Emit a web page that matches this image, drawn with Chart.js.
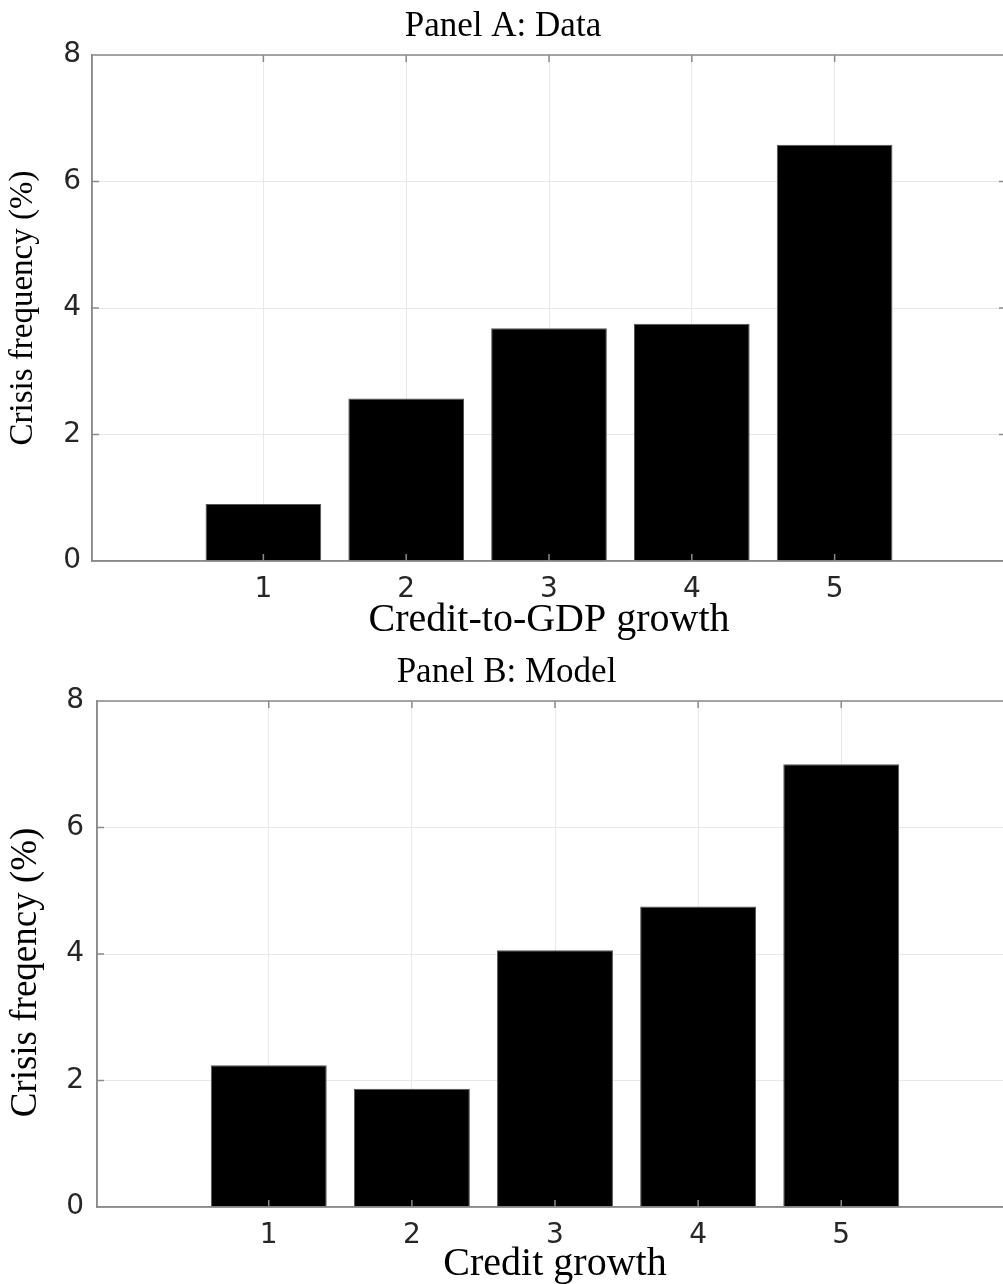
<!DOCTYPE html>
<html>
<head>
<meta charset="utf-8">
<script src="https://cdn.jsdelivr.net/npm/chart.js@4.4.1/dist/chart.umd.min.js"></script>
<style>
    html, body { margin: 0; padding: 0; background: #fff; overflow: hidden; }
    body { width: 1003px; height: 1284px; position: relative; }
    .panel { position: absolute; left: 0; }
</style>
</head>
<body>
<div class="panel" id="wrapA" style="top:0;width:1006px;height:645px"><canvas id="chartA"></canvas></div>
<div class="panel" id="wrapB" style="top:645px;width:1013px;height:639px"><canvas id="chartB"></canvas></div>
<script>
// Values
const categories = [1, 2, 3, 4, 5]
const dataValues = [0.9, 2.57, 3.68, 3.75, 6.58]
const modelValues = [2.24, 1.87, 4.06, 4.75, 7.0]
const yTicks = [0, 2, 4, 6, 8]
const xRange = [-0.2, 6.2]

const axisColor = '#8a8a8a'
const gridColor = '#e8e8e8'
const serif = '"Liberation Serif", "Times New Roman", serif'
const sans = '"DejaVu Sans", sans-serif'

// Draws the box round the plot and the inward tick marks (matlab style)
const boxPlugin = {
    id: 'box',
    afterDatasetsDraw(chart) {
        const { ctx, chartArea: { left, right, top, bottom }, scales: { x, y } } = chart
        const tickLen = 7
        ctx.save()
        ctx.strokeStyle = axisColor
        ctx.lineWidth = 1.5
        ctx.beginPath()
        ctx.rect(left, top, right - left, bottom - top)
        x.ticks.forEach(t => {
            const px = x.getPixelForValue(t.value)
            ctx.moveTo(px, top)
            ctx.lineTo(px, top + tickLen)
            ctx.moveTo(px, bottom)
            ctx.lineTo(px, bottom - tickLen)
        })
        y.ticks.forEach(t => {
            const py = y.getPixelForValue(t.value)
            ctx.moveTo(left, py)
            ctx.lineTo(left + tickLen, py)
            ctx.moveTo(right, py)
            ctx.lineTo(right - tickLen, py)
        })
        ctx.stroke()
        ctx.restore()
    }
}

function makePanel(canvasId, opts) {
    const ctx = document.getElementById(canvasId).getContext('2d')

    return new Chart(ctx, {
        type: 'bar',
        data: {
            datasets: [{
                data: categories.map((c, i) => ({ x: c, y: opts.values[i] })),
                backgroundColor: '#000',
                borderColor: '#555',
                borderWidth: 1,
                barPercentage: 0.81,
                categoryPercentage: 1
            }]
        },
        plugins: [boxPlugin],
        options: {
            responsive: true,
            maintainAspectRatio: false,
            animation: false,
            layout: { padding: 0 },
            plugins: {
                legend: { display: false },
                tooltip: { enabled: false },
                title: {
                    display: true,
                    text: opts.title,
                    color: '#000',
                    font: { family: serif, size: 35, weight: 'normal', lineHeight: 1.2 },
                    padding: { top: opts.titleTop, bottom: opts.titleBottom }
                }
            },
            scales: {
                x: {
                    type: 'linear',
                    min: xRange[0],
                    max: xRange[1],
                    offset: false,
                    afterBuildTicks: (scale) => {
                        scale.ticks = categories.map(v => ({ value: v }))
                    },
                    afterFit: (scale) => {
                        scale.height = opts.xHeight
                    },
                    ticks: {
                        color: '#262626',
                        padding: 12,
                        maxRotation: 0,
                        autoSkip: false,
                        font: { family: sans, size: 28, lineHeight: 1.2 },
                        callback: (value) => String(value)
                    },
                    grid: { color: gridColor, lineWidth: 1, offset: false, drawTicks: false },
                    border: { display: true, color: axisColor, width: 1.5 },
                    title: {
                        display: true,
                        text: opts.xTitle,
                        color: '#000',
                        font: { family: serif, size: 40, lineHeight: 1 },
                        padding: { top: 0, bottom: opts.xTitleBottom }
                    }
                },
                y: {
                    type: 'linear',
                    min: 0,
                    max: 8,
                    afterBuildTicks: (scale) => {
                        scale.ticks = yTicks.map(v => ({ value: v }))
                    },
                    afterFit: (scale) => {
                        scale.width = opts.yWidth
                    },
                    ticks: {
                        color: '#262626',
                        padding: opts.yTickPad,
                        font: { family: sans, size: 28 }
                    },
                    grid: { color: gridColor, lineWidth: 1, drawTicks: false },
                    border: { display: true, color: axisColor, width: 1.5 },
                    title: {
                        display: true,
                        text: opts.yTitle,
                        color: '#000',
                        font: { family: serif, size: opts.yTitleSize, lineHeight: 1 },
                        padding: { top: opts.yTitlePad, bottom: 0 }
                    }
                }
            }
        }
    })
}

makePanel('chartA', {
    title: 'Panel A: Data',
    xTitle: 'Credit-to-GDP growth',
    yTitle: 'Crisis frequency (%)',
    values: dataValues,
    titleTop: 6,
    titleBottom: 7,
    xHeight: 84,
    xTitleBottom: 5,
    yWidth: 92,
    yTickPad: 11,
    yTitleSize: 33,
    yTitlePad: 7
})

makePanel('chartB', {
    title: 'Panel B: Model',
    xTitle: 'Credit growth',
    yTitle: 'Crisis freqency (%)    ',
    values: modelValues,
    titleTop: 7,
    titleBottom: 7,
    xHeight: 77,
    xTitleBottom: 0,
    yWidth: 97,
    yTickPad: 13,
    yTitleSize: 37,
    yTitlePad: 8
})
</script>
</body>
</html>
